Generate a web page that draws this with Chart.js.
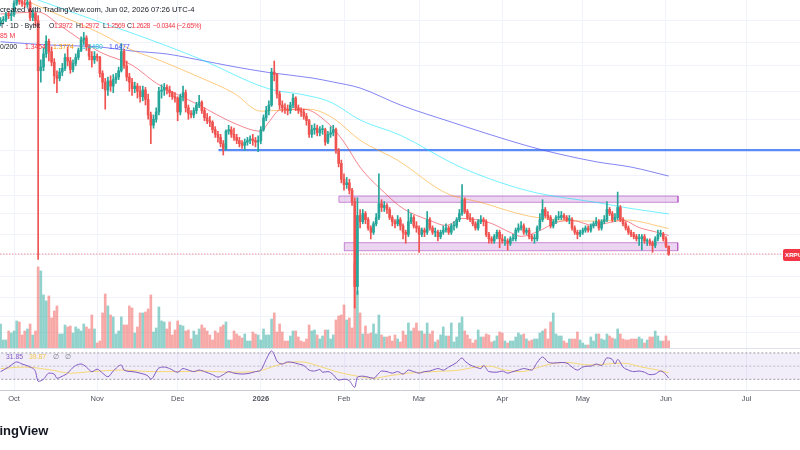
<!DOCTYPE html>
<html><head><meta charset="utf-8">
<script src="https://cdn.jsdelivr.net/npm/chart.js@4.4.1/dist/chart.umd.min.js"></script>
<style>
html,body{margin:0;padding:0;background:#fff;}
#wrap{position:relative;width:800px;height:450px;overflow:hidden;background:#fff;font-family:"Liberation Sans",Arial,sans-serif;}
canvas{position:absolute;left:0;}
#main{top:0;}
#rsiC{top:349px;}
.t{position:absolute;white-space:nowrap;font-size:6.8px;line-height:10px;color:#131722;}
.n{letter-spacing:-0.4px;}
.r{color:#f23645;}
#sep{position:absolute;left:0;top:348px;width:800px;height:1px;background:#e0e3eb;}
#plabel{position:absolute;left:783px;top:249px;height:12px;line-height:12px;padding-left:2px;width:40px;background:#f23645;color:#fff;font-size:6.2px;font-weight:bold;border-radius:2px;}
#logo{position:absolute;left:-28px;top:423px;font-size:13px;font-weight:bold;color:#131722;white-space:nowrap;}
</style></head>
<body><div id="wrap">
<canvas id="main" width="800" height="348"></canvas>
<div id="sep"></div>
<canvas id="rsiC" width="800" height="58"></canvas>
<div class="t" style="left:0;top:5px;font-size:7.6px;">created with TradingView.com, Jun 02, 2026 07:26 UTC-4</div>
<div class="t" style="left:0;top:21px;">T · 1D · Bybit</div>
<div class="t n" id="lgO" style="left:49px;top:21px;"></div>
<div class="t n" id="lgH" style="left:76px;top:21px;"></div>
<div class="t n" id="lgL" style="left:103px;top:21px;"></div>
<div class="t n" id="lgC" style="left:127px;top:21px;"></div>
<div class="t r n" id="lgChg" style="left:153px;top:21px;"></div>
<div class="t r" id="lgVol" style="left:0;top:31px;"></div>
<div class="t" style="left:0;top:42px;">0/200</div>
<div class="t" id="lgMa20" style="left:25px;top:42px;color:#f23645;"></div>
<div class="t" id="lgMa50" style="left:53px;top:42px;color:#ff9800;"></div>
<div class="t" id="lgMa100" style="left:82px;top:42px;color:#26c6da;"></div>
<div class="t" id="lgMa200" style="left:109px;top:42px;color:#3f51f5;"></div>
<div class="t" id="lgRsi" style="left:6px;top:352px;color:#7e57c2;"></div>
<div class="t" id="lgRsiMa" style="left:29px;top:352px;color:#f2c94c;"></div>
<div class="t" style="left:53px;top:352px;color:#787b86;">∅</div>
<div class="t" style="left:65px;top:352px;color:#787b86;">∅</div>
<div id="plabel">XRPUSDT</div>
<div id="logo">TradingView</div>
</div>
<script>
// ---- time axis (day index, 0 = 2025-10-01) ----
const firstDay = -5;
const monthStarts = [0, 31, 61, 92, 123, 151, 182, 212, 243, 273];
const monthLabels = ['Oct', 'Nov', 'Dec', '2026', 'Feb', 'Mar', 'Apr', 'May', 'Jun', 'Jul'];

// ---- XRPUSDT daily candles ----
const open = [
2.78,2.80,2.81,2.86,2.85,2.86,2.97,3.02,2.99,2.97,
2.96,2.98,2.83,2.87,2.80,2.36,2.39,2.50,2.61,2.52,
2.43,2.32,2.30,2.35,2.38,2.47,2.44,2.37,2.42,2.47,
2.53,2.62,2.64,2.56,2.48,2.45,2.48,2.47,2.34,2.27,
2.21,2.28,2.24,2.29,2.31,2.36,2.52,2.40,2.31,2.27,
2.22,2.24,2.20,2.16,2.21,2.14,2.03,1.96,2.00,2.05,
2.20,2.21,2.23,2.21,2.19,2.16,2.15,2.05,2.16,2.19,
2.08,2.04,2.03,2.06,2.10,2.12,2.06,2.01,1.99,1.98,
1.93,1.90,1.88,1.84,1.81,1.92,1.93,1.90,1.88,1.86,
1.84,1.83,1.85,1.86,1.87,1.86,1.85,1.86,1.93,2.01,
2.06,2.10,2.35,2.33,2.18,2.10,2.08,2.07,2.06,2.10,
2.15,2.08,2.06,2.05,2.02,1.99,1.90,1.93,1.94,1.91,
1.93,1.93,1.85,1.90,1.91,1.93,1.80,1.72,1.63,1.60,
1.61,1.57,1.51,1.13,1.44,1.41,1.45,1.42,1.38,1.36,
1.40,1.43,1.50,1.48,1.49,1.47,1.43,1.41,1.40,1.42,
1.39,1.36,1.35,1.41,1.43,1.39,1.38,1.35,1.37,1.36,
1.42,1.38,1.36,1.36,1.34,1.36,1.37,1.38,1.36,1.39,
1.39,1.42,1.45,1.52,1.46,1.43,1.42,1.40,1.38,1.41,
1.42,1.41,1.35,1.33,1.32,1.34,1.36,1.33,1.32,1.32,
1.31,1.33,1.33,1.37,1.38,1.39,1.36,1.37,1.34,1.33,
1.33,1.38,1.42,1.47,1.44,1.43,1.39,1.41,1.43,1.43,
1.44,1.43,1.42,1.42,1.38,1.36,1.35,1.36,1.37,1.38,
1.37,1.39,1.40,1.41,1.38,1.41,1.42,1.47,1.45,1.42,
1.43,1.48,1.42,1.40,1.38,1.36,1.35,1.34,1.33,1.33,
1.34,1.32,1.32,1.31,1.30,1.33,1.35,1.35,1.33,1.2972];
const high = [
2.83,2.84,2.88,2.89,2.90,3.00,3.07,3.08,3.01,3.03,
3.03,3.00,2.90,2.88,2.85,2.45,2.55,2.66,2.63,2.56,
2.46,2.36,2.38,2.42,2.50,2.56,2.47,2.45,2.50,2.55,
2.65,2.69,2.66,2.58,2.52,2.52,2.50,2.48,2.36,2.30,
2.31,2.32,2.33,2.34,2.39,2.59,2.54,2.44,2.34,2.30,
2.27,2.26,2.24,2.24,2.23,2.18,2.05,2.03,2.08,2.23,
2.25,2.26,2.25,2.24,2.20,2.19,2.16,2.18,2.24,2.21,
2.10,2.06,2.08,2.12,2.17,2.13,2.08,2.04,2.02,1.99,
1.95,1.92,1.90,1.86,1.93,1.96,1.95,1.94,1.90,1.88,
1.86,1.87,1.88,1.89,1.90,1.88,1.89,1.95,2.03,2.09,
2.13,2.38,2.44,2.34,2.20,2.13,2.11,2.10,2.12,2.18,
2.16,2.10,2.08,2.07,2.04,2.00,1.96,1.97,1.96,1.95,
1.96,1.94,1.92,1.95,1.96,1.94,1.81,1.74,1.66,1.64,
1.63,1.58,1.53,1.53,1.47,1.47,1.46,1.43,1.39,1.41,
1.45,1.66,1.52,1.51,1.50,1.48,1.44,1.42,1.44,1.43,
1.40,1.37,1.47,1.45,1.44,1.41,1.39,1.38,1.38,1.46,
1.43,1.39,1.38,1.37,1.37,1.39,1.40,1.39,1.40,1.41,
1.43,1.47,1.60,1.53,1.47,1.45,1.43,1.41,1.42,1.44,
1.43,1.42,1.36,1.34,1.35,1.37,1.37,1.35,1.34,1.33,
1.34,1.35,1.38,1.40,1.41,1.40,1.38,1.38,1.35,1.35,
1.39,1.45,1.52,1.48,1.46,1.44,1.42,1.44,1.46,1.46,
1.45,1.44,1.44,1.43,1.39,1.37,1.37,1.38,1.39,1.39,
1.40,1.41,1.43,1.42,1.42,1.44,1.51,1.48,1.46,1.45,
1.56,1.49,1.43,1.41,1.39,1.37,1.36,1.35,1.35,1.35,
1.35,1.33,1.33,1.32,1.34,1.37,1.37,1.36,1.34,1.2972];
const low = [
2.75,2.77,2.79,2.82,2.80,2.84,2.95,2.96,2.94,2.93,
2.93,2.80,2.80,2.75,1.24,2.27,2.36,2.47,2.44,2.40,
2.26,2.19,2.28,2.32,2.36,2.40,2.34,2.35,2.40,2.45,
2.52,2.58,2.53,2.45,2.39,2.42,2.44,2.31,2.22,2.07,
2.17,2.20,2.19,2.26,2.29,2.35,2.38,2.28,2.20,2.17,
2.19,2.15,2.12,2.13,2.10,2.00,1.84,1.94,1.98,2.03,
2.15,2.17,2.18,2.16,2.14,2.12,1.99,2.03,2.13,2.05,
2.00,2.01,2.01,2.04,2.08,2.04,1.99,1.97,1.95,1.91,
1.88,1.85,1.82,1.77,1.80,1.90,1.88,1.86,1.84,1.82,
1.81,1.80,1.83,1.84,1.83,1.82,1.79,1.84,1.92,1.99,
2.03,2.09,2.28,2.15,2.07,2.05,2.04,2.03,2.04,2.08,
2.06,2.04,2.02,2.00,1.96,1.88,1.88,1.90,1.89,1.89,
1.90,1.83,1.84,1.88,1.89,1.78,1.70,1.61,1.57,1.58,
1.55,1.49,1.05,1.10,1.38,1.40,1.40,1.37,1.33,1.35,
1.39,1.42,1.46,1.46,1.45,1.42,1.39,1.38,1.39,1.37,
1.33,1.31,1.34,1.40,1.38,1.36,1.27,1.34,1.34,1.35,
1.37,1.35,1.34,1.32,1.33,1.35,1.36,1.35,1.35,1.37,
1.38,1.41,1.44,1.45,1.42,1.41,1.39,1.37,1.37,1.40,
1.39,1.34,1.31,1.31,1.31,1.33,1.29,1.31,1.30,1.28,
1.30,1.32,1.32,1.36,1.37,1.35,1.35,1.33,1.32,1.31,
1.32,1.37,1.41,1.43,1.42,1.38,1.38,1.40,1.42,1.42,
1.42,1.41,1.40,1.37,1.35,1.33,1.34,1.35,1.36,1.36,
1.36,1.38,1.39,1.37,1.37,1.40,1.41,1.44,1.41,1.41,
1.42,1.41,1.39,1.37,1.35,1.34,1.33,1.32,1.30,1.28,
1.31,1.30,1.30,1.27,1.29,1.32,1.34,1.32,1.29,1.2569];
const close = [
2.80,2.81,2.86,2.85,2.86,2.97,3.02,2.99,2.97,2.96,
2.98,2.83,2.87,2.80,2.36,2.39,2.50,2.61,2.52,2.43,
2.32,2.30,2.35,2.38,2.47,2.44,2.37,2.42,2.47,2.53,
2.62,2.64,2.56,2.48,2.45,2.48,2.47,2.34,2.27,2.21,
2.28,2.24,2.29,2.31,2.36,2.52,2.40,2.31,2.27,2.22,
2.24,2.20,2.16,2.21,2.14,2.03,1.96,2.00,2.05,2.20,
2.21,2.23,2.21,2.19,2.16,2.15,2.05,2.16,2.19,2.08,
2.04,2.03,2.06,2.10,2.12,2.06,2.01,1.99,1.98,1.93,
1.90,1.88,1.84,1.81,1.92,1.93,1.90,1.88,1.86,1.84,
1.83,1.85,1.86,1.87,1.86,1.85,1.86,1.93,2.01,2.06,
2.10,2.35,2.33,2.18,2.10,2.08,2.07,2.06,2.10,2.15,
2.08,2.06,2.05,2.02,1.99,1.90,1.93,1.94,1.91,1.93,
1.93,1.85,1.90,1.91,1.93,1.80,1.72,1.63,1.60,1.61,
1.57,1.51,1.13,1.44,1.41,1.45,1.42,1.38,1.36,1.40,
1.43,1.50,1.48,1.49,1.47,1.43,1.41,1.40,1.42,1.39,
1.36,1.35,1.41,1.43,1.39,1.38,1.35,1.37,1.36,1.42,
1.38,1.36,1.36,1.34,1.36,1.37,1.38,1.36,1.39,1.39,
1.42,1.45,1.52,1.46,1.43,1.42,1.40,1.38,1.41,1.42,
1.41,1.35,1.33,1.32,1.34,1.36,1.33,1.32,1.32,1.31,
1.33,1.33,1.37,1.38,1.39,1.36,1.37,1.34,1.33,1.33,
1.38,1.42,1.47,1.44,1.43,1.39,1.41,1.43,1.43,1.44,
1.43,1.42,1.42,1.38,1.36,1.35,1.36,1.37,1.38,1.37,
1.39,1.40,1.41,1.38,1.41,1.42,1.47,1.45,1.42,1.43,
1.48,1.42,1.40,1.38,1.36,1.35,1.34,1.33,1.33,1.34,
1.32,1.32,1.31,1.30,1.33,1.35,1.35,1.33,1.2972,1.2628];
// volume, millions XRP
const volume = [
288,96,96,204,180,204,324,312,156,204,
228,288,156,204,972,924,636,564,624,360,
444,504,168,168,276,252,264,180,252,228,
204,288,252,228,396,228,60,84,420,648,
504,396,372,168,204,372,276,276,504,480,
180,252,420,420,432,468,636,192,240,492,
324,312,228,312,156,216,324,276,264,204,
216,108,204,156,228,276,240,204,156,96,
204,180,252,276,312,96,96,204,168,144,
120,168,84,84,192,168,156,96,228,156,
156,348,420,192,288,192,84,84,144,204,
204,132,84,72,108,276,204,216,156,108,
144,216,216,108,156,336,384,396,516,336,
360,240,1020,684,420,168,264,168,180,288,
168,396,156,132,132,144,84,156,108,72,
204,156,300,204,240,300,204,204,168,300,
168,204,72,96,156,252,144,144,300,72,
132,300,372,204,156,108,60,96,216,132,
132,168,156,72,84,144,192,180,84,60,
84,84,132,180,156,168,108,84,96,108,
108,180,204,228,108,312,420,168,144,144,
84,60,108,108,108,192,96,60,36,36,
132,84,168,168,108,96,168,144,120,108,
228,168,108,96,96,108,108,108,132,108,
60,96,132,132,204,144,84,84,144,85];

// ---- moving averages ----
const ma20Days = [-5,9,17,25,32,44,53,69,82,92,95,99,108,117,123,129,138,145,155,161,167,177,185,189,196,202,208,216,222,227,233,240,244];
const ma20 = [2.865,2.884,2.758,2.621,2.516,2.406,2.263,2.099,1.974,1.920,1.981,2.063,2.070,1.974,1.850,1.698,1.558,1.475,1.416,1.392,1.426,1.406,1.359,1.341,1.368,1.406,1.416,1.392,1.406,1.416,1.382,1.359,1.3454];
const ma50Days = [-5,4,32,44,54,69,82,92,99,110,119,129,143,161,174,192,215,228,244];
const ma50 = [3.13,3.005,2.684,2.533,2.448,2.310,2.186,2.056,2.063,2.070,2.007,1.862,1.739,1.555,1.506,1.437,1.413,1.418,1.3774];
const ma100Days = [-5,9,32,44,69,95,108,118,129,144,165,181,195,217,230,244];
const ma100 = [3.14,3.005,2.787,2.684,2.460,2.219,2.174,2.121,1.995,1.894,1.709,1.613,1.555,1.506,1.475,1.448];
const ma200Days = [-5,13,32,44,57,69,82,95,111,119,129,144,163,184,197,217,230,244];
const ma200 = [2.606,2.577,2.560,2.525,2.499,2.449,2.393,2.346,2.303,2.271,2.225,2.100,1.981,1.863,1.801,1.730,1.699,1.6477];

// ---- RSI(14) and its MA ----
const rsiDays = [-5,-2,0,1,3,6,8,9,11,13,15,16,18,20,21,23,25,27,29,31,33,35,37,40,41,44,47,50,51,54,56,58,61,63,65,67,69,71,74,76,78,80,82,85,88,90,92,94,96,97,98,100,102,104,106,108,110,112,114,115,117,119,121,123,125,127,128,130,132,134,136,137,139,141,143,145,147,149,151,153,155,156,158,160,162,165,167,168,170,172,174,175,177,180,182,184,186,188,190,193,195,197,199,201,204,206,208,210,212,214,215,217,219,221,223,224,225,227,229,231,233,235,237,239,241,243,244];
const rsi = [41.7,48.6,54.6,56.4,53.2,48.6,41.7,27.0,30.2,39.4,38.0,31.6,34.8,39.4,44.0,50.9,53.2,48.6,41.7,45.4,39.4,33.9,42.6,51.8,44.0,41.7,39.4,34.8,30.2,47.2,48.6,46.3,40.8,46.3,44.0,41.7,44.0,41.7,37.1,33.4,37.1,41.7,39.4,38.0,39.4,41.7,44.0,60.1,73.0,67.0,57.8,53.2,56.4,55.5,53.2,50.9,44.0,42.6,44.9,40.8,41.7,37.1,28.8,30.2,27.9,17.8,33.4,34.8,33.4,31.6,39.4,42.6,41.7,39.4,41.7,38.0,44.0,41.7,39.4,41.7,42.6,44.0,46.3,44.0,48.6,55.5,62.4,57.8,51.8,48.6,46.3,50.9,41.7,40.8,42.6,39.4,41.7,44.0,46.3,44.0,55.5,63.8,56.4,54.6,55.5,54.6,48.6,44.0,48.6,50.0,50.0,53.2,50.9,62.4,60.1,53.2,60.1,48.6,44.0,41.7,42.6,40.8,37.1,38.0,42.6,37.1,31.85];
const rsiMaDays = [-5,4,14,21,29,40,52,61,71,80,90,96,101,107,113,120,128,134,139,147,156,166,172,177,183,189,194,200,206,214,221,227,234,240,244];
const rsiMa = [46.3,48.6,44.0,39.4,41.7,44.0,41.7,41.7,42.6,40.8,41.7,48.6,54.6,56.4,50.9,41.7,34.8,31.6,34.8,39.4,41.7,44.0,48.6,50.0,44.0,41.7,46.3,53.2,55.5,51.8,53.2,54.6,48.6,44.0,39.87];
const rsiLevels = [70, 50, 30];

// ---- drawn levels and zones (day index, price) ----
const keyLevel = {from: 76.2, price: 1.80};
const upperZone = {from: 121.1, to: 247.5, low: 1.5065, high: 1.539};
const lowerZone = {from: 123.1, to: 247.4, low: 1.2771, high: 1.3125};
const priceGridTicks = [0.965, 1.02, 1.09, 1.17, 1.26, 1.35, 1.45, 1.54, 1.65, 1.8, 2.0, 2.2, 2.4, 2.6, 2.8];

// ---- view ----
const X_MIN = -5.22, X_MAX = 292.96;
const P_MIN = 0.91624, P_MAX = 3.0049;

const UP = '#26a69a', DN = '#ef5350';
const days = close.map((_, i) => firstDay + i);
const isUp = close.map((c, i) => c >= open[i]);
const pts = (ds, vs) => ds.map((d, i) => ({x: d, y: vs[i]}));
const box = z => [{x: z.from, y: z.low}, {x: z.from, y: z.high}, {x: z.to, y: z.high}, {x: z.to, y: z.low}, {x: z.from, y: z.low}];
const n = close.length - 1;
const lastPrice = close[n];

const lineDs = (data, color, order, extra) => Object.assign({type: 'line', data, borderColor: color, borderWidth: 1, pointRadius: 0, cubicInterpolationMode: 'monotone', fill: false, order}, extra || {});
const monthTicks = axis => { axis.ticks = monthStarts.map(v => ({value: v})); };
const GRID = '#f0f3fa';

new Chart(document.getElementById('main'), {
  type: 'bar',
  data: {datasets: [
    lineDs([{x: X_MIN - 1, y: lastPrice}, {x: 286.6, y: lastPrice}], 'rgba(242,54,69,0.75)', 0, {borderDash: [1, 2], cubicInterpolationMode: 'default'}),
    {label: 'body', data: days.map((d, i) => ({x: d, y: [open[i], close[i]]})), backgroundColor: isUp.map(u => u ? UP : DN), barThickness: 2, minBarLength: 1, grouped: false, order: 1},
    {label: 'wick', data: days.map((d, i) => ({x: d, y: [low[i], high[i]]})), backgroundColor: isUp.map(u => u ? UP : DN), barThickness: 1, grouped: false, order: 2},
    lineDs(pts(ma20Days, ma20), 'rgba(242,54,69,0.6)', 3),
    lineDs(pts(ma50Days, ma50), 'rgba(255,152,0,0.5)', 4),
    lineDs(pts(ma100Days, ma100), 'rgba(0,229,255,0.55)', 5),
    lineDs(pts(ma200Days, ma200), 'rgba(80,80,240,0.7)', 6),
    lineDs([{x: keyLevel.from, y: keyLevel.price}, {x: X_MAX + 5, y: keyLevel.price}], '#5b8cf5', 7, {borderWidth: 2.2, cubicInterpolationMode: 'default'}),
    lineDs(box(upperZone), 'rgba(171,71,188,0.6)', 8, {fill: 'shape', backgroundColor: 'rgba(186,104,200,0.28)', cubicInterpolationMode: 'default', tension: 0}),
    lineDs(box(lowerZone), 'rgba(171,71,188,0.6)', 9, {fill: 'shape', backgroundColor: 'rgba(186,104,200,0.28)', cubicInterpolationMode: 'default', tension: 0}),
    {label: 'volume', yAxisID: 'yv', data: days.map((d, i) => ({x: d, y: volume[i]})), backgroundColor: isUp.map(u => u ? 'rgba(38,166,154,0.5)' : 'rgba(239,83,80,0.5)'), barThickness: 2, grouped: false, order: 10}
  ]},
  options: {
    responsive: false, animation: false, devicePixelRatio: 1, events: [],
    layout: {padding: 0},
    plugins: {legend: {display: false}, tooltip: {enabled: false}},
    scales: {
      x: {type: 'linear', min: X_MIN, max: X_MAX, offset: false,
          grid: {color: GRID, drawTicks: false, offset: false}, border: {display: false},
          ticks: {display: false}, afterBuildTicks: monthTicks},
      y: {type: 'logarithmic', position: 'right', min: P_MIN, max: P_MAX,
          grid: {color: GRID, drawTicks: false}, border: {display: false},
          ticks: {display: false},
          afterBuildTicks: axis => { axis.ticks = priceGridTicks.map(v => ({value: v})); }},
      yv: {type: 'linear', display: false, min: 0, max: 4170}
    }
  }
});

const lastRsi = rsi[rsi.length - 1], lastRsiMa = rsiMa[rsiMa.length - 1];
new Chart(document.getElementById('rsiC'), {
  type: 'line',
  data: {datasets: [
    lineDs(pts(rsiDays, rsi), '#7e57c2', 0),
    lineDs(pts(rsiMaDays, rsiMa), '#f5d776', 1),
    lineDs([{x: X_MIN - 1, y: rsiLevels[0]}, {x: X_MAX + 1, y: rsiLevels[0]}], 'rgba(120,123,134,0.75)', 3, {borderDash: [2, 2]}),
    lineDs([{x: X_MIN - 1, y: rsiLevels[2]}, {x: X_MAX + 1, y: rsiLevels[2]}], 'rgba(120,123,134,0.75)', 4, {borderDash: [2, 2], fill: '-1', backgroundColor: 'rgba(126,87,194,0.1)'}),
    lineDs([{x: X_MIN - 1, y: rsiLevels[1]}, {x: X_MAX + 1, y: rsiLevels[1]}], 'rgba(120,123,134,0.45)', 2, {borderDash: [2, 2]})
  ]},
  options: {
    responsive: false, animation: false, devicePixelRatio: 1, events: [],
    layout: {padding: 0},
    plugins: {legend: {display: false}, tooltip: {enabled: false}},
    scales: {
      x: {type: 'linear', min: X_MIN, max: X_MAX, offset: false,
          grid: {color: GRID, drawTicks: false}, border: {display: true, color: '#c9ccd4'},
          afterBuildTicks: monthTicks,
          ticks: {autoSkip: false, maxRotation: 0, padding: 4, color: '#50535e',
                  font: c => ({size: 7.5, family: '"Liberation Sans", Arial, sans-serif', weight: (c.tick && c.tick.value === 92) ? 'bold' : 'normal'}),
                  callback: v => monthLabels[monthStarts.indexOf(v)] || ''}},
      y: {type: 'linear', display: false, min: 13.86, max: 75.93}
    }
  }
});

// ---- legend texts from data ----
const f4 = v => v.toFixed(4);
const chg = close[n] - close[n - 1];
document.getElementById('lgO').innerHTML = 'O<span class="r">' + f4(open[n]) + '</span>';
document.getElementById('lgH').innerHTML = 'H<span class="r">' + f4(high[n]) + '</span>';
document.getElementById('lgL').innerHTML = 'L<span class="r">' + f4(low[n]) + '</span>';
document.getElementById('lgC').innerHTML = 'C<span class="r">' + f4(close[n]) + '</span>';
document.getElementById('lgChg').textContent = '\u2212' + Math.abs(chg).toFixed(4) + ' (\u2212' + Math.abs(chg / close[n - 1] * 100).toFixed(2) + '%)';
document.getElementById('lgVol').textContent = Math.round(volume[n]) + ' M';
document.getElementById('lgMa20').textContent = f4(ma20[ma20.length - 1]);
document.getElementById('lgMa50').textContent = f4(ma50[ma50.length - 1]);
document.getElementById('lgMa100').textContent = f4(ma100[ma100.length - 1]);
document.getElementById('lgMa200').textContent = f4(ma200[ma200.length - 1]);
document.getElementById('lgRsi').textContent = lastRsi.toFixed(2);
document.getElementById('lgRsiMa').textContent = lastRsiMa.toFixed(2);
</script>
</body></html>
